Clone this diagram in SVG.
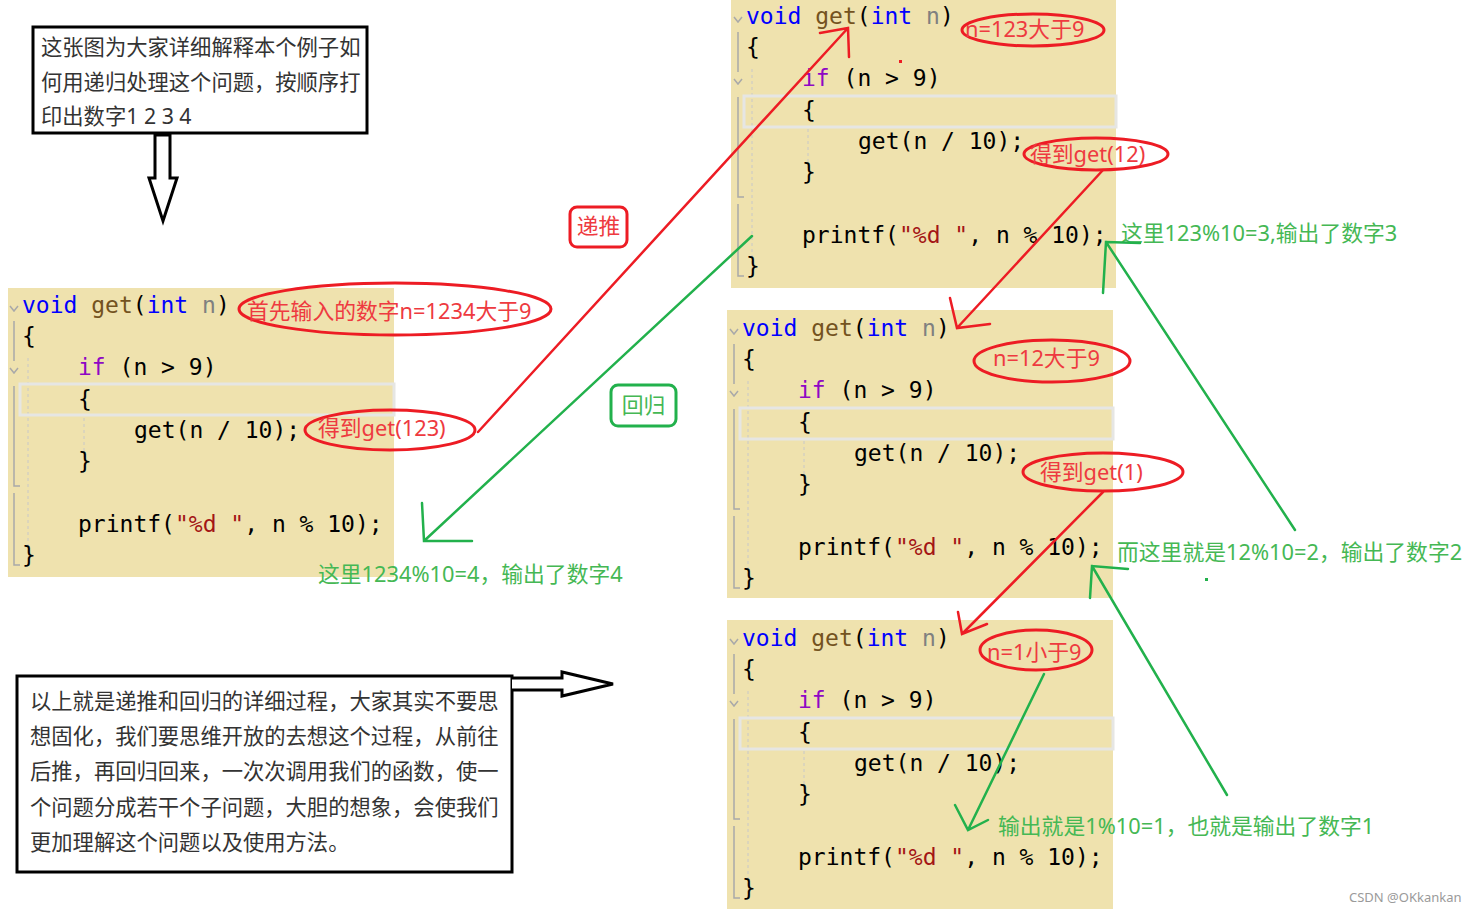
<svg xmlns="http://www.w3.org/2000/svg" width="1478" height="912" viewBox="0 0 1478 912">
<style>
.bg{fill:#EFE2AE}
.hl{fill:none;stroke:#E6E6E3;stroke-width:3}
.code{font-family:"DejaVu Sans Mono","Liberation Mono",monospace;font-size:23px;fill:#000;white-space:pre}
.kw{fill:#0000FF}.fn{fill:#74531F}.pm{fill:#808080}.ct{fill:#8F08C4}.st{fill:#A31515}
.gut{stroke:#A9A9A9;stroke-width:1.5;fill:none}
.guide{stroke:#C8C8C8;stroke-width:1;stroke-dasharray:3 3;fill:none}
.note{font-family:"Noto Sans","Noto Sans CJK SC",sans-serif;font-size:21.3px;fill:#333}
.box{fill:#fff;stroke:#000;stroke-width:3}
.rt{font-family:"Noto Sans","Noto Sans CJK SC",sans-serif;font-size:21.8px;fill:#EE3A40}
.gt{font-family:"Noto Sans","Noto Sans CJK SC",sans-serif;font-size:21.8px;fill:#45B854}
.re{fill:none;stroke:#ED1C24;stroke-width:3}
.rl{fill:none;stroke:#ED1C24;stroke-width:2.5;stroke-linecap:round}
.gl{fill:none;stroke:#22B14C;stroke-width:2.5;stroke-linecap:round}
</style>
<defs>
<g id="gutter">
<path class="gut" d="M2,18 l4,5 l4,-5 M6,33 v40 M2,80 l4,5 l4,-5 M6,98 v100 h6 M6,205 v72 h6"/>
<path class="guide" d="M20,70 v210 M76,130 v40"/>
</g>
</defs>
<rect width="1478" height="912" fill="#fff"/>

<g id="intro-note">
<rect class="box" x="33" y="27" width="334" height="106"/>
<text class="note" x="41" y="55">这张图为大家详细解释本个例子如</text>
<text class="note" x="41" y="90">何用递归处理这个问题，按顺序打</text>
<text class="note" x="41" y="124">印出数字1 2 3 4</text>
</g>

<g id="code-main">
<rect class="bg" x="8" y="288" width="386" height="289"/>
<g transform="translate(8,288)">
<use href="#gutter"/>
<rect class="hl" x="12" y="96" width="374" height="31"/>
<text class="code" x="14" y="25"><tspan class="kw">void</tspan> <tspan class="fn">get</tspan>(<tspan class="kw">int</tspan> <tspan class="pm">n</tspan>)</text>
<text class="code" x="14" y="56">{</text>
<text class="code" x="70" y="87"><tspan class="ct">if</tspan> (n &gt; 9)</text>
<text class="code" x="70" y="119">{</text>
<text class="code" x="126" y="150">get(n / 10);</text>
<text class="code" x="70" y="181">}</text>
<text class="code" x="70" y="244">printf(<tspan class="st">"%d "</tspan>, n % 10);</text>
<text class="code" x="14" y="275">}</text>
</g>
</g>

<g id="code-123">
<rect class="bg" x="731" y="0" width="385" height="288"/>
<g transform="translate(732,-1)">
<use href="#gutter"/>
<rect class="hl" x="12" y="97" width="372" height="31"/>
<text class="code" x="14" y="25"><tspan class="kw">void</tspan> <tspan class="fn">get</tspan>(<tspan class="kw">int</tspan> <tspan class="pm">n</tspan>)</text>
<text class="code" x="14" y="56">{</text>
<text class="code" x="70" y="87"><tspan class="ct">if</tspan> (n &gt; 9)</text>
<text class="code" x="70" y="119">{</text>
<text class="code" x="126" y="150">get(n / 10);</text>
<text class="code" x="70" y="181">}</text>
<text class="code" x="70" y="244">printf(<tspan class="st">"%d "</tspan>, n % 10);</text>
<text class="code" x="14" y="275">}</text>
</g>
</g>

<g id="code-12">
<rect class="bg" x="727" y="310" width="386" height="288"/>
<g transform="translate(728,311)">
<use href="#gutter"/>
<rect class="hl" x="12" y="97" width="373" height="31"/>
<text class="code" x="14" y="25"><tspan class="kw">void</tspan> <tspan class="fn">get</tspan>(<tspan class="kw">int</tspan> <tspan class="pm">n</tspan>)</text>
<text class="code" x="14" y="56">{</text>
<text class="code" x="70" y="87"><tspan class="ct">if</tspan> (n &gt; 9)</text>
<text class="code" x="70" y="119">{</text>
<text class="code" x="126" y="150">get(n / 10);</text>
<text class="code" x="70" y="181">}</text>
<text class="code" x="70" y="244">printf(<tspan class="st">"%d "</tspan>, n % 10);</text>
<text class="code" x="14" y="275">}</text>
</g>
</g>

<g id="code-1">
<rect class="bg" x="727" y="620" width="386" height="289"/>
<g transform="translate(728,621)">
<use href="#gutter"/>
<rect class="hl" x="12" y="97" width="373" height="31"/>
<text class="code" x="14" y="25"><tspan class="kw">void</tspan> <tspan class="fn">get</tspan>(<tspan class="kw">int</tspan> <tspan class="pm">n</tspan>)</text>
<text class="code" x="14" y="56">{</text>
<text class="code" x="70" y="87"><tspan class="ct">if</tspan> (n &gt; 9)</text>
<text class="code" x="70" y="119">{</text>
<text class="code" x="126" y="150">get(n / 10);</text>
<text class="code" x="70" y="181">}</text>
<text class="code" x="70" y="244">printf(<tspan class="st">"%d "</tspan>, n % 10);</text>
<text class="code" x="14" y="275">}</text>
</g>
</g>

<g id="summary-note">
<rect class="box" x="17" y="676" width="495" height="196"/>
<text class="note" x="30" y="709">以上就是递推和回归的详细过程，大家其实不要思</text>
<text class="note" x="30" y="744">想固化，我们要思维开放的去想这个过程，从前往</text>
<text class="note" x="30" y="779">后推，再回归回来，一次次调用我们的函数，使一</text>
<text class="note" x="30" y="815">个问题分成若干个子问题，大胆的想象，会使我们</text>
<text class="note" x="30" y="850">更加理解这个问题以及使用方法。</text>
</g>

<g id="label-digui">
<rect x="570" y="207" width="57" height="40" rx="7" fill="#fff" stroke="#ED1C24" stroke-width="3"/>
<text class="rt" x="598.5" y="234" text-anchor="middle">递推</text>
</g>
<g id="label-huigui">
<rect x="611" y="385" width="65" height="41" rx="7" fill="#fff" stroke="#22B14C" stroke-width="3"/>
<text class="gt" x="643.5" y="413" text-anchor="middle">回归</text>
</g>

<g id="annotations">
<ellipse class="re" cx="395" cy="309" rx="156" ry="26"/>
<text class="rt" x="247" y="319">首先输入的数字n=1234大于9</text>
<ellipse class="re" cx="390" cy="430" rx="85" ry="20"/>
<text class="rt" x="318" y="436">得到get(123)</text>
<ellipse class="re" cx="1033" cy="30" rx="71" ry="16"/>
<text class="rt" x="965" y="37">n=123大于9</text>
<ellipse class="re" cx="1096" cy="154" rx="72" ry="16"/>
<text class="rt" x="1030" y="162">得到get(12)</text>
<ellipse class="re" cx="1052" cy="361" rx="78" ry="21"/>
<text class="rt" x="993" y="366">n=12大于9</text>
<ellipse class="re" cx="1103" cy="472" rx="80" ry="19"/>
<text class="rt" x="1040" y="480">得到get(1)</text>
<ellipse class="re" cx="1036" cy="650" rx="56" ry="20"/>
<text class="rt" x="987" y="660">n=1小于9</text>
<text class="gt" x="318" y="582">这里1234%10=4，输出了数字4</text>
<text class="gt" x="1121" y="241">这里123%10=3,输出了数字3</text>
<text class="gt" x="1117" y="560">而这里就是12%10=2，输出了数字2</text>
<text class="gt" x="998" y="834">输出就是1%10=1，也就是输出了数字1</text>
<rect x="899" y="60" width="3" height="3" fill="#ED1C24"/>
<rect x="1205" y="578" width="3" height="3" fill="#22B14C"/>
<text x="1349" y="902" font-family="Noto Sans,Noto Sans CJK SC,sans-serif" font-size="13" fill="#9A9A9A">CSDN @OKkankan</text>
</g>

<g id="connectors">
<path d="M155,135 H170 V178 H177 L163,221 L149,178 H155 Z" fill="#fff" stroke="#000" stroke-width="3" stroke-linejoin="miter"/>
<path d="M512,678 H562 V672 L613,684 L562,696 V690 H512" fill="#fff" stroke="#000" stroke-width="3"/>
<path class="rl" d="M478,432 L848,28 M820,33 L848,28 L849,57"/>
<path class="rl" d="M1103,170 L957,328 M950,298 L957,328 L990,324"/>
<path class="rl" d="M1103,492 L962,634 M958,612 L962,634 L987,624"/>
<path class="gl" d="M752,236 L424,541 M472,541 L424,541 L422,503"/>
<path class="gl" d="M1295,530 L1106,242 M1140,243 L1106,242 L1103,293"/>
<path class="gl" d="M1227,795 L1092,566 M1128,569 L1092,566 L1090,598"/>
<path class="gl" d="M1044,674 L968,830 M955,805 L968,830 L988,820"/>
</g>
</svg>
